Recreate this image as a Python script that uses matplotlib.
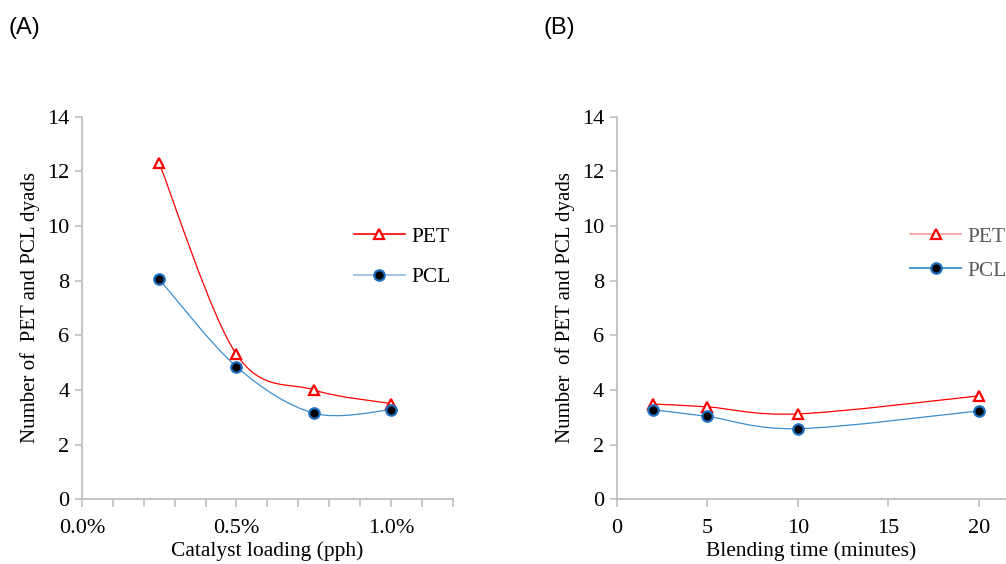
import numpy as np
import matplotlib.pyplot as plt
from matplotlib.path import Path
from matplotlib.patches import PathPatch
from matplotlib.lines import Line2D
from matplotlib.ticker import FuncFormatter, MultipleLocator

# data
loading = [0.25, 0.5, 0.75, 1.0]          # catalyst loading, %
pet_a = [12.3, 5.3, 4.0, 3.5]
pcl_a = [8.05, 4.85, 3.15, 3.27]

blend_time = [2, 5, 10, 20]               # minutes
pet_b = [3.48, 3.38, 3.12, 3.78]
pcl_b = [3.27, 3.03, 2.58, 3.23]

RED = '#ff0000'
BLUE = '#3b8ed0'
GRAY = '#bfbfbf'

plt.rcParams['font.family'] = 'Liberation Serif'


def smooth_path(x, y):
    # Excel-like smoothed line: cubic bezier segments through the points
    pts = np.column_stack([x, y]).astype(float)
    verts = [pts[0]]
    codes = [Path.MOVETO]
    n = len(pts)
    for i in range(n - 1):
        p0 = pts[i - 1] if i > 0 else pts[i]
        p1 = pts[i]
        p2 = pts[i + 1]
        p3 = pts[i + 2] if i + 2 < n else pts[i + 1]
        c1 = p1 + (p2 - p0) / 6
        c2 = p2 - (p3 - p1) / 6
        verts += [c1, c2, p2]
        codes += [Path.CURVE4] * 3
    return Path(verts, codes)


def draw_series(ax, x, pet, pcl):
    ax.add_patch(PathPatch(smooth_path(x, pet), fill=False, edgecolor=RED, lw=0.9))
    ax.add_patch(PathPatch(smooth_path(x, pcl), fill=False, edgecolor=BLUE, lw=0.9))
    ax.plot(x, pet, ls='none', marker='^', ms=7, mfc='white', mec=RED, mew=1.6, zorder=3)
    ax.plot(x, pcl, ls='none', marker='o', ms=7.5, mfc='black', mec='#1f6fc0', mew=1.6, zorder=3)


def style_axes(ax):
    for s in ['top', 'right']:
        ax.spines[s].set_visible(False)
    for s in ['left', 'bottom']:
        ax.spines[s].set_color(GRAY)
        ax.spines[s].set_linewidth(1.3)
    ax.tick_params(which='both', color=GRAY, width=1.2, length=5, labelsize=16, direction='out')
    ax.tick_params(axis='y', pad=4)
    ax.set_ylim(0, 14)
    ax.yaxis.set_major_locator(MultipleLocator(2))


def make_handles(pet_color, pcl_color):
    return [
        Line2D([], [], color=pet_color, lw=1.2, marker='^', ms=7, mfc='white', mec=RED, mew=1.6),
        Line2D([], [], color=pcl_color, lw=1.3, marker='o', ms=7.5, mfc='black', mec='#1f6fc0', mew=1.6),
    ]


fig = plt.figure(figsize=(10.06, 5.64), dpi=100)

# (A) catalyst loading
ax1 = fig.add_axes([0.0815, 0.115, 0.3685, 0.678])
draw_series(ax1, loading, pet_a, pcl_a)
style_axes(ax1)
ax1.set_xlim(0, 1.2)
ax1.xaxis.set_major_locator(MultipleLocator(0.5))
ax1.xaxis.set_minor_locator(MultipleLocator(0.1))
ax1.xaxis.set_major_formatter(FuncFormatter(lambda v, p: f'{v:.1f}%'))
ax1.tick_params(axis='x', which='both', length=6, pad=8)
ax1.set_xlabel('Catalyst loading (pph)', fontsize=15.5, labelpad=3)
ax1.set_ylabel('Number of  PET and PCL dyads', fontsize=15, labelpad=5)
ax1.legend(make_handles(RED, '#9cc3e6'), ['PET', 'PCL'], loc='upper left', bbox_to_anchor=(0.352, 0.598),
           bbox_transform=fig.transFigure, borderpad=0, borderaxespad=0,
           frameon=False, fontsize=15.5, handlelength=2.35, labelspacing=0.95, handletextpad=0.3)

# (B) blending time
ax2 = fig.add_axes([0.613, 0.115, 0.387, 0.678])
draw_series(ax2, blend_time, pet_b, pcl_b)
style_axes(ax2)
ax2.set_xlim(0, 21.5)
ax2.set_xticks([0, 5, 10, 15, 20])
ax2.tick_params(axis='x', length=6, pad=8)
ax2.set_xlabel('Blending time (minutes)', fontsize=15.5, labelpad=3)
ax2.set_ylabel('Number  of PET and PCL dyads', fontsize=15, labelpad=5)
leg = ax2.legend(make_handles('#ff9a9a', BLUE), ['PET', 'PCL'], loc='upper left', bbox_to_anchor=(0.905, 0.598),
                 bbox_transform=fig.transFigure, borderpad=0, borderaxespad=0,
                 frameon=False, fontsize=15.5, handlelength=2.35, labelspacing=0.65, handletextpad=0.3)
for t in leg.get_texts():
    t.set_color('#595959')

fig.text(0.008, 0.95, '(A)', fontsize=17, family='Liberation Sans', va='center')
fig.text(0.540, 0.95, '(B)', fontsize=17, family='Liberation Sans', va='center')

fig.savefig('out.png', dpi=100)
